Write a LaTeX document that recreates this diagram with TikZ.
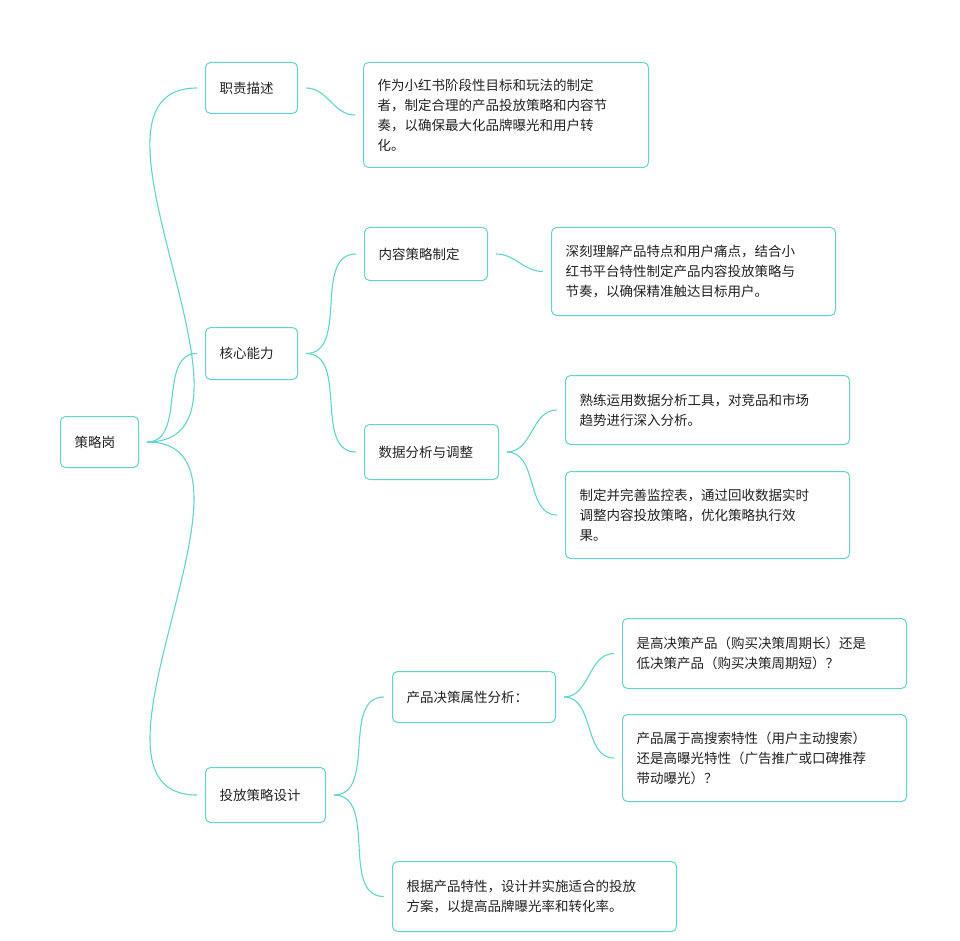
\documentclass[tikz,border=0pt]{standalone}
\usepackage{fontspec}
\setmainfont{Noto Sans CJK SC}
\usetikzlibrary{calc}
\definecolor{teal1}{HTML}{5ED6CF}
\definecolor{txt}{HTML}{222222}
\tikzset{
  box/.style={draw=teal1, line width=1pt, rounded corners=5pt, anchor=north west, font=\fontsize{13.5}{20}\selectfont, text=txt, align=left, inner xsep=14pt, inner ysep=0pt},
  lnk/.style={draw=teal1, line width=1.1pt},
}
\newcommand\lk[2]{\draw[lnk] ($(#1.east)+(8,0)$) to[out=0,in=180] ($(#2.west)+(-8,0)$);}
\begin{document}
\begin{tikzpicture}[x=1pt,y=-1pt]
\useasboundingbox (0,0) rectangle (960,941);
\node[box, minimum width=78pt, minimum height=51pt, text width=50pt] (r) at (60,416) {策略岗};
\node[box, minimum width=92pt, minimum height=51pt, text width=64pt] (a) at (205,62) {职责描述};
\node[box, minimum width=285pt, minimum height=105pt, text width=257pt] (a1) at (363,62) {作为小红书阶段性目标和玩法的制定\\者，制定合理的产品投放策略和内容节\\奏，以确保最大化品牌曝光和用户转\\化。};
\node[box, minimum width=92pt, minimum height=52pt, text width=64pt] (b) at (205,327) {核心能力};
\node[box, minimum width=123pt, minimum height=53pt, text width=95pt] (b1) at (364,227) {内容策略制定};
\node[box, minimum width=284pt, minimum height=88pt, text width=256pt] (b1a) at (551,227) {深刻理解产品特点和用户痛点，结合小\\红书平台特性制定产品内容投放策略与\\节奏，以确保精准触达目标用户。};
\node[box, minimum width=134pt, minimum height=55pt, text width=106pt] (b2) at (364,424) {数据分析与调整};
\node[box, minimum width=284pt, minimum height=69pt, text width=256pt] (b2a) at (565,375) {熟练运用数据分析工具，对竞品和市场\\趋势进行深入分析。};
\node[box, minimum width=284pt, minimum height=87pt, text width=256pt] (b2b) at (565,471) {制定并完善监控表，通过回收数据实时\\调整内容投放策略，优化策略执行效\\果。};
\node[box, minimum width=120pt, minimum height=55pt, text width=92pt] (c) at (205,767) {投放策略设计};
\node[box, minimum width=163pt, minimum height=51pt, text width=135pt] (c1) at (392,671) {产品决策属性分析：};
\node[box, minimum width=284pt, minimum height=70pt, text width=256pt] (c1a) at (622,618) {是高决策产品（购买决策周期长）还是\\低决策产品（购买决策周期短）？};
\node[box, minimum width=284pt, minimum height=87pt, text width=256pt] (c1b) at (622,714) {产品属于高搜索特性（用户主动搜索）\\还是高曝光特性（广告推广或口碑推荐\\带动曝光）？};
\node[box, minimum width=284pt, minimum height=70pt, text width=256pt] (c2) at (392,861) {根据产品特性，设计并实施适合的投放\\方案，以提高品牌曝光率和转化率。};
\lk{r}{a}\lk{r}{b}\lk{r}{c}
\lk{a}{a1}
\lk{b}{b1}\lk{b}{b2}
\lk{b1}{b1a}
\lk{b2}{b2a}\lk{b2}{b2b}
\lk{c}{c1}\lk{c}{c2}
\lk{c1}{c1a}\lk{c1}{c1b}
\end{tikzpicture}
\end{document}
